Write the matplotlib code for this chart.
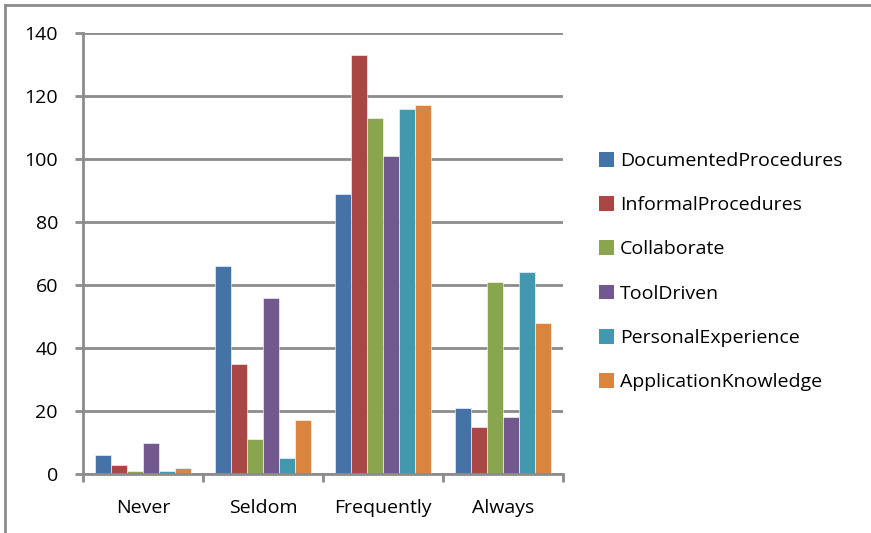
import numpy as np
import matplotlib
matplotlib.use("Agg")
import matplotlib.pyplot as plt
from matplotlib.lines import Line2D
from matplotlib.patches import Patch

categories = ["Never", "Seldom", "Frequently", "Always"]
series_names = ["DocumentedProcedures", "InformalProcedures", "Collaborate",
                "ToolDriven", "PersonalExperience", "ApplicationKnowledge"]
documented = [6, 66, 89, 21]
informal = [3, 35, 133, 15]
collaborate = [1, 11, 113, 61]
tool_driven = [10, 56, 101, 18]
personal = [1, 5, 116, 64]
application = [2, 17, 117, 48]
series_values = [documented, informal, collaborate, tool_driven, personal, application]
colors = ["#4572A7", "#AA4643", "#89A54E", "#71588F", "#4198AF", "#DB843D"]
y_ticks = [0, 20, 40, 60, 80, 100, 120, 140]

plt.rcParams["font.family"] = ["Open Sans", "DejaVu Sans"]

fig = plt.figure(figsize=(8.71, 5.33), dpi=100)
ax = fig.add_axes([83 / 871, 59 / 533, 480 / 871, 441 / 533])

n = len(series_names)
bar_w = 1 / 7.5
x = np.arange(len(categories))
for i, (name, vals, c) in enumerate(zip(series_names, series_values, colors)):
    offs = (i - (n - 1) / 2) * bar_w
    ax.bar(x + offs, vals, width=bar_w, color=c, edgecolor="white",
           linewidth=0.4, label=name, zorder=3)

grid_c = "#8C8C8C"
ax.set_xlim(-0.5, len(categories) - 0.5)
ax.set_ylim(0, 140)
ax.set_yticks(y_ticks)
ax.yaxis.grid(True, color=grid_c, linewidth=2, zorder=1)
for s in ["top", "right"]:
    ax.spines[s].set_visible(False)
for s in ["left", "bottom"]:
    ax.spines[s].set_color(grid_c)
    ax.spines[s].set_linewidth(2)
    ax.spines[s].set_zorder(4)

fs = 14
ax.set_xticks(x)
ax.set_xticklabels(categories)
ax.set_xticks(np.arange(len(categories) + 1) - 0.5, minor=True)
ax.tick_params(axis="x", which="major", length=0, pad=18, labelsize=fs)
ax.tick_params(axis="x", which="minor", length=6, width=2, color=grid_c)
ax.tick_params(axis="y", length=6, width=2, color=grid_c, pad=12, labelsize=fs)

handles = [Patch(facecolor=c, edgecolor="none") for c in colors]
fig.legend(handles, series_names, loc="upper left",
           bbox_to_anchor=(591 / 871, 1 - 144 / 533), frameon=False,
           fontsize=fs, handlelength=0.8, handleheight=0.8,
           handletextpad=0.3, labelspacing=1.34, borderaxespad=0)

# outer frame (top and left edges)
fig.add_artist(Line2D([5 / 871, 1.0], [1 - 5 / 533, 1 - 5 / 533],
                      transform=fig.transFigure, color=grid_c, linewidth=2))
fig.add_artist(Line2D([5 / 871, 5 / 871], [0, 1 - 5 / 533],
                      transform=fig.transFigure, color=grid_c, linewidth=2))

fig.savefig("out.png", dpi=100)
